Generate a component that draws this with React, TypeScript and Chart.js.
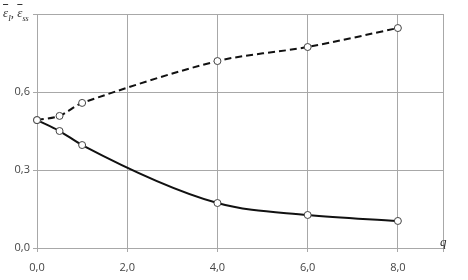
import React, { useEffect, useRef } from "react";
import { Chart, registerables } from "chart.js";

Chart.register(...registerables);

const qValues = [0, 0.5, 1, 4, 6, 8];
const epsSS = [0.492, 0.508, 0.558, 0.719, 0.773, 0.846];
const epsI = [0.492, 0.45, 0.396, 0.173, 0.127, 0.104];
const xTicks = [0, 2, 4, 6, 8];
const yTicks = [0, 0.3, 0.6];
const xMax = 9;
const yMax = 0.9;

const fmt = (v: number) => v.toFixed(1).replace(".", ",");

export default function App() {
  const ref = useRef<HTMLCanvasElement | null>(null);
  useEffect(() => {
    document.body.style.margin = "0";
    const ctx = ref.current!;
    const pointStyle = {
      pointRadius: 3.5,
      pointBackgroundColor: "#ffffff",
      pointBorderColor: "#444444",
      pointBorderWidth: 1,
      pointHoverRadius: 3.5,
    };
    const chart = new Chart(ctx, {
      type: "scatter",
      data: {
        datasets: [
          {
            data: qValues.map((x, i) => ({ x, y: epsSS[i] })),
            showLine: true,
            borderColor: "#111111",
            borderWidth: 2,
            borderDash: [7, 4],
            tension: 0.3,
            ...pointStyle,
          },
          {
            data: qValues.map((x, i) => ({ x, y: epsI[i] })),
            showLine: true,
            borderColor: "#111111",
            borderWidth: 2,
            cubicInterpolationMode: "monotone",
            ...pointStyle,
          },
        ],
      },
      options: {
        animation: false,
        responsive: false,
        clip: false as any,
        layout: { padding: { top: 14, right: 25, left: 0, bottom: 0 } },
        plugins: { legend: { display: false }, tooltip: { enabled: false } },
        scales: {
          x: {
            type: "linear",
            min: 0,
            max: xMax,
            afterBuildTicks: (s: any) => {
              s.ticks = [...xTicks, xMax].map((v) => ({ value: v }));
            },
            afterFit: (s: any) => {
              s.height = 32;
            },
            ticks: {
              callback: (v: any) => (xTicks.includes(v) ? fmt(v) : ""),
              color: "#444444",
              font: { family: "Open Sans", size: 11 },
              padding: 9,
              maxRotation: 0,
            },
            grid: { color: "#a8a8a8", lineWidth: 1, tickLength: 4 },
            border: { color: "#a8a8a8" },
          },
          y: {
            type: "linear",
            min: 0,
            max: yMax,
            afterBuildTicks: (s: any) => {
              s.ticks = [...yTicks, yMax].map((v) => ({ value: v }));
            },
            afterFit: (s: any) => {
              s.width = 37;
            },
            ticks: {
              callback: (v: any) =>
                yTicks.some((t) => Math.abs(t - v) < 1e-9) ? fmt(v) : "",
              color: "#444444",
              font: { family: "Open Sans", size: 11 },
              padding: 3,
            },
            grid: { color: "#a8a8a8", lineWidth: 1, tickLength: 4 },
            border: { color: "#a8a8a8" },
          },
        },
      },
    });
    return () => chart.destroy();
  }, []);
  return (
    <div style={{ position: "relative", width: 468, height: 280, background: "#fff" }}>
      <canvas ref={ref} width={468} height={280} style={{ display: "block" }} />
      <div
        style={{
          position: "absolute",
          left: 3,
          top: 6,
          fontFamily: "Liberation Serif",
          fontStyle: "italic",
          fontSize: 13,
          lineHeight: "13px",
          color: "#333",
          whiteSpace: "nowrap",
        }}
      >
        <span style={{ textDecoration: "overline" }}>ε</span>
        <sub style={{ fontSize: 8 }}>I</sub>,{" "}
        <span style={{ textDecoration: "overline" }}>ε</span>
        <sub style={{ fontSize: 8 }}>ss</sub>
      </div>
      <div
        style={{
          position: "absolute",
          left: 440,
          top: 234,
          fontFamily: "Liberation Serif",
          fontStyle: "italic",
          fontSize: 13,
          color: "#333",
        }}
      >
        q
      </div>
    </div>
  );
}
